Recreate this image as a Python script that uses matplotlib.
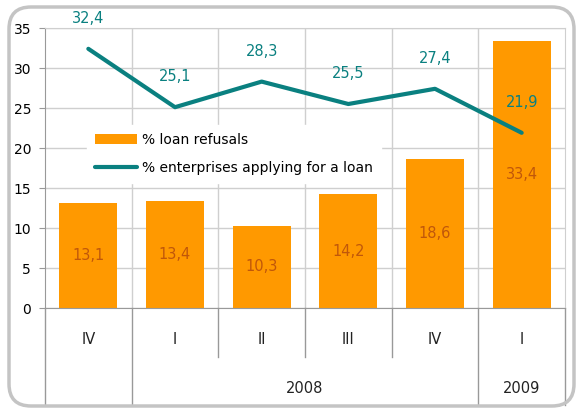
import matplotlib
matplotlib.use("Agg")
import matplotlib.pyplot as plt
from matplotlib.patches import FancyBboxPatch
from matplotlib.transforms import IdentityTransform

# Data
quarters = ["IV", "I", "II", "III", "IV", "I"]
years = ["2008", "2009"]
loan_refusals = [13.1, 13.4, 10.3, 14.2, 18.6, 33.4]
applying = [32.4, 25.1, 28.3, 25.5, 27.4, 21.9]

ORANGE = "#FF9900"
TEAL = "#0A8080"
BROWN = "#C0570A"
GRID = "#CFCFCF"

plt.rcParams["font.family"] = ["DejaVu Sans"]

fig = plt.figure(figsize=(5.76, 4.09), dpi=100)
ax = fig.add_axes([45 / 576, 1 - 308 / 409, 520 / 576, 280 / 409])

x = list(range(len(quarters)))
bars = ax.bar(x, loan_refusals, width=0.67, color=ORANGE, zorder=2, label="% loan refusals")
line, = ax.plot(x, applying, color=TEAL, lw=3, solid_capstyle="round", zorder=3,
                label="% enterprises applying for a loan")

def fmt(v):
    return f"{v:.1f}".replace(".", ",")

for xi, v in zip(x, loan_refusals):
    ax.text(xi, v / 2, fmt(v), ha="center", va="center", color=BROWN, fontsize=10.5, zorder=4)
for xi, v in zip(x, applying):
    ax.annotate(fmt(v), (xi, v), xytext=(0, 22), textcoords="offset points",
                ha="center", va="center", color=TEAL, fontsize=10.5, zorder=4)

ax.set_xlim(-0.5, len(quarters) - 0.5)
ax.set_ylim(0, 35)
ax.set_yticks(range(0, 36, 5))
ax.set_xticks([i + 0.5 for i in range(len(quarters) - 1)])
ax.set_xticklabels([])
ax.tick_params(axis="x", length=0)
ax.tick_params(axis="y", length=4, color="#999999", pad=6, labelsize=10)
ax.grid(True, color=GRID, lw=1, zorder=0)
ax.set_axisbelow(True)
for side in ["top", "right"]:
    ax.spines[side].set_color(GRID)
for side in ["left", "bottom"]:
    ax.spines[side].set_color("#999999")

# Category axis below the plot
tr = ax.get_xaxis_transform()
for xi, q in zip(x, quarters):
    ax.text(xi, -0.114, q, transform=tr, ha="center", va="center", fontsize=10.5, color="#222222")
long_seps = [-0.5, 0.5, 4.5, 5.5]
short_seps = [1.5, 2.5, 3.5]
for s in long_seps:
    ax.plot([s, s], [0, -0.346], transform=tr, color="#999999", lw=1, clip_on=False)
for s in short_seps:
    ax.plot([s, s], [0, -0.175], transform=tr, color="#999999", lw=1, clip_on=False)
ax.text(2.5, -0.286, years[0], transform=tr, ha="center", va="center", fontsize=10.5, color="#222222")
ax.text(5.0, -0.286, years[1], transform=tr, ha="center", va="center", fontsize=10.5, color="#222222")

leg = ax.legend([bars, line], ["% loan refusals", "% enterprises applying for a loan"],
                loc="upper left", bbox_to_anchor=(0.067, 0.679), frameon=True,
                fontsize=10, handlelength=3.0, handletextpad=0.35, labelspacing=1.0,
                borderpad=0.6, fancybox=False)
leg.get_frame().set_facecolor("white")
leg.get_frame().set_edgecolor("white")
leg.get_frame().set_alpha(1)
leg.set_zorder(5)

# Rounded outer frame
frame = FancyBboxPatch((9, 3), 565, 399, boxstyle="round,pad=0,rounding_size=22",
                       transform=IdentityTransform(), fill=False, edgecolor="#C4C4C4",
                       lw=2.5, zorder=10)
fig.patches.append(frame)

fig.savefig("out.png", dpi=100)
